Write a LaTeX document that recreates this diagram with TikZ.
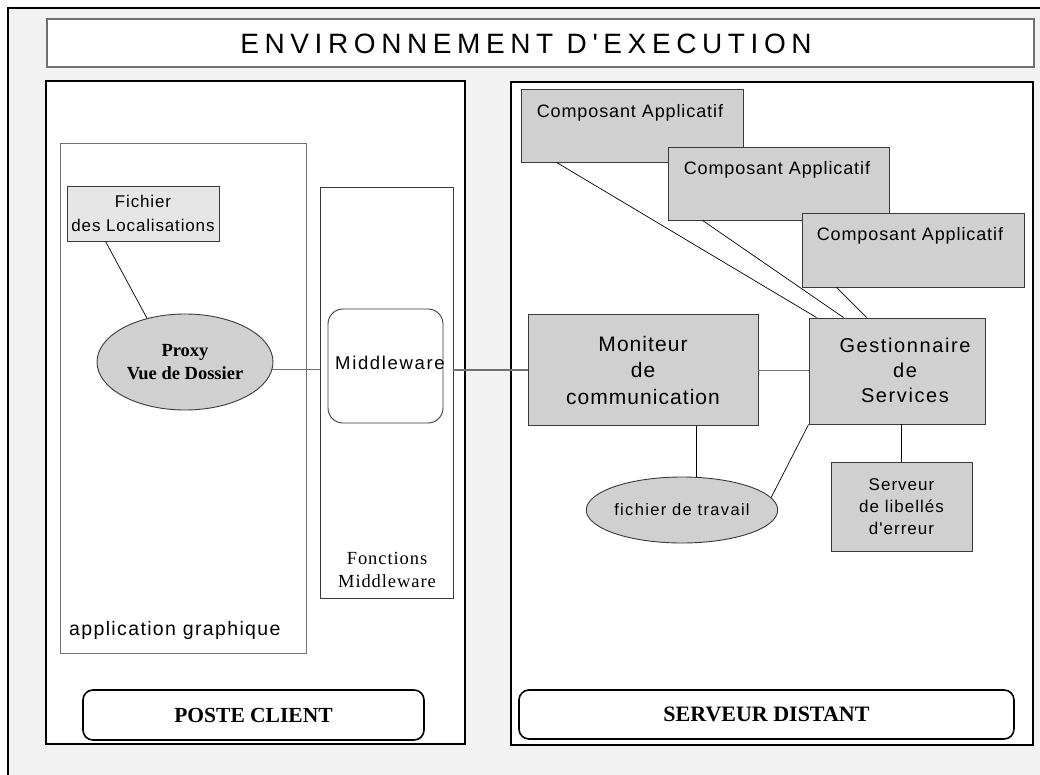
\documentclass[tikz,border=0pt]{standalone}
\usepackage{fontspec}
\setmainfont{Liberation Sans}[Ligatures=TeXOff]
\newfontfamily\tnr{Liberation Serif}[Ligatures=TeXOff]
\usetikzlibrary{calc,shapes.geometric}
\definecolor{bgc}{HTML}{F2F2F2}
\definecolor{boxc}{HTML}{D0D0D0}
\definecolor{lboxc}{HTML}{E6E6E6}
\definecolor{edgec}{HTML}{3A3A3A}
\definecolor{greyline}{HTML}{707070}
\tikzset{
  panel/.style={draw=black, line width=1.8pt, fill=white, inner sep=0pt},
  thinbox/.style={draw=edgec, line width=0.9pt, fill=white, inner sep=0pt},
  gbox/.style={draw=edgec, line width=0.9pt, fill=boxc, inner sep=0pt, align=center},
  gell/.style={ellipse, draw=edgec, line width=0.9pt, fill=boxc, inner sep=0pt, align=center},
  labbox/.style={draw=black, line width=1.6pt, fill=white, rounded corners=10pt, inner sep=0pt},
  conn/.style={draw=black, line width=0.7pt},
  gconn/.style={draw=greyline, line width=1.3pt},
  txt/.style={inner sep=0pt, align=center},
  fA/.style={font={\fontsize{18}{22}\selectfont\addfontfeatures{LetterSpace=5}}},
  fB/.style={font={\fontsize{21}{26.5}\selectfont\addfontfeatures{LetterSpace=5}}},
  fS/.style={font={\tnr\fontsize{18.5}{23}\selectfont\addfontfeatures{LetterSpace=5}}},
  fSB/.style={font={\tnr\bfseries\fontsize{21.5}{24}\selectfont}},
}
\begin{document}
\begin{tikzpicture}[x=1pt, y=-1pt]
\useasboundingbox (0,0) rectangle (1040,775);
\clip (0,0) rectangle (1040,775);
\fill[white] (0,0) rectangle (1040,775);
% outer frame
\draw[fill=bgc, line width=1.8pt] (8,8) rectangle (1070,800);
% title
\draw[draw=greyline, line width=1.2pt, fill=white] (47,19) rectangle (1034,67);
\node[txt, font={\fontsize{28}{30}\selectfont\addfontfeatures{LetterSpace=20}}] (title) at (526,44) {ENVIRONNEMENT D'EXECUTION};
% panels
\node[panel, minimum width=419pt, minimum height=663pt] (client) at (255.5,412.5) {};
\node[panel, minimum width=522pt, minimum height=663pt] (server) at (772,413.5) {};
% left side
\node[thinbox, draw=greyline, minimum width=246pt, minimum height=510pt] (app) at (183,398) {};
\node[txt, font={\fontsize{19.5}{22}\selectfont\addfontfeatures{LetterSpace=7}}, anchor=west] (apptxt) at (69,630) {application graphique};
\node[gbox, fill=lboxc, minimum width=152pt, minimum height=55pt, font={\fontsize{17}{24}\selectfont\addfontfeatures{LetterSpace=5}}] (loc) at (143,213.5) {Fichier\\des Localisations};
\node[gell, minimum width=176pt, minimum height=96pt, font={\tnr\bfseries\fontsize{18.5}{23}\selectfont}] (prox) at (185,362) {Proxy\\Vue de Dossier};
\node[thinbox, minimum width=133pt, minimum height=411pt] (fonc) at (386.5,392.5) {};
\node[txt, fS] (fonctxt) at (387,570) {Fonctions\\Middleware};
\node[draw=edgec, line width=0.9pt, fill=white, rounded corners=15pt, minimum width=115pt, minimum height=114pt, inner sep=0pt] (mid) at (385.5,366) {};
\node[txt, font={\fontsize{18.5}{22}\selectfont\addfontfeatures{LetterSpace=9}}] (midtxt) at (390,363) {Middleware};
% right side
\node[gbox, minimum width=222pt, minimum height=73pt] (c1) at (632,125.5) {};
\node[txt, fA, anchor=west] (c1t) at ($(c1.north west)+(16,24)$) {Composant Applicatif};
\node[gbox, minimum width=221pt, minimum height=73pt] (c2) at (778.5,183.5) {};
\node[txt, fA, anchor=west] (c2t) at ($(c2.north west)+(16,23)$) {Composant Applicatif};
\node[gbox, minimum width=222pt, minimum height=74pt] (c3) at (913,250) {};
\node[txt, fA, anchor=west] (c3t) at ($(c3.north west)+(15,23)$) {Composant Applicatif};
\node[gbox, minimum width=230pt, minimum height=111pt, fB] (mon) at (643,370) {Moniteur\\de\\communication};
\node[gbox, minimum width=176pt, minimum height=106pt] (gest) at (897,371) {};
\node[txt, font={\fontsize{20}{25}\selectfont\addfontfeatures{LetterSpace=8}}] (gesttxt) at (905,370) {Gestionnaire\\de\\Services};
\node[gell, minimum width=182pt, minimum height=66pt, font={\fontsize{16.5}{20}\selectfont\addfontfeatures{LetterSpace=8}}] (ft) at (682,510) {fichier de travail};
\node[gbox, minimum width=141pt, minimum height=89pt, font={\fontsize{17}{22}\selectfont\addfontfeatures{LetterSpace=6}}] (serv) at (901.5,506.5) {Serveur\\de libellés\\d'erreur};
% bottom labels
\node[labbox, minimum width=341pt, minimum height=50pt, fSB] (pc) at (253.5,715) {POSTE CLIENT};
\node[labbox, minimum width=495pt, minimum height=49pt, font={\tnr\bfseries\fontsize{22}{24}\selectfont}] (sd) at (766.5,714.5) {SERVEUR DISTANT};
% connectors
\draw[conn] ($(loc.south west)+(39,0)$) -- (prox.131);
\draw[gconn] (prox.-5) -- (prox.-5 -| fonc.west);
\draw[gconn] (fonc.east |- mon.west) -- (mon.west);
\draw[conn, draw=greyline, line width=1pt] (mon.east) -- (mon.east -| gest.west);
\draw[conn] ($(c1.south west)+(36,0)$) -- ($(gest.north west)+(8,0)$);
\draw[conn] ($(c2.south west)+(35,0)$) -- ($(gest.north west)+(35,0)$);
\draw[conn] ($(c3.south west)+(35,0)$) -- ($(gest.north west)+(58,0)$);
\draw[conn] ($(mon.south)+(53,0)$) -- ($(ft.north)+(14,0)$);
\draw[conn] (gest.south west) -- (ft.8);
\draw[conn] (serv.north |- gest.south) -- (serv.north);
\end{tikzpicture}
\end{document}
